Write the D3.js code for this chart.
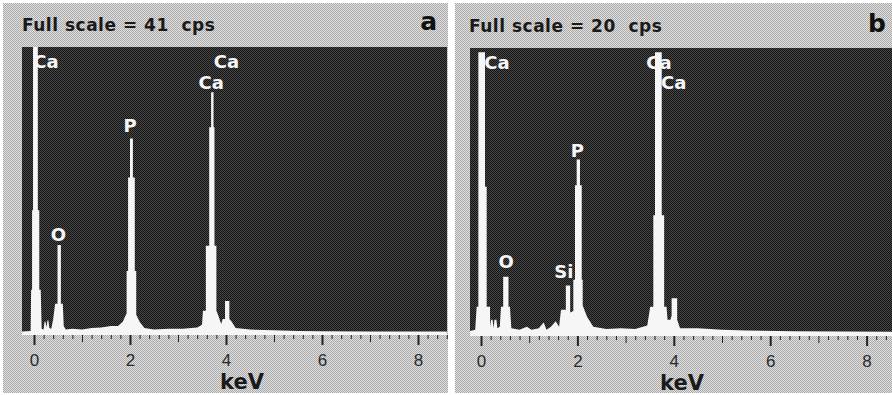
<!DOCTYPE html>
<html>
<head>
<meta charset="utf-8">
<script src="https://cdn.jsdelivr.net/npm/d3@7"></script>
<style>
  body { margin: 0; background: #fff; }
  svg { display: block; }
</style>
</head>
<body>
<div id="chart"></div>
<script>
/**
 * DATA
 * */
const fullScale = [41, 20];          // cps at top of each plot
const panelLetters = ["a", "b"];
const tickLabels = [0, 2, 4, 6, 8];  // keV

// spectrum outlines, [keV, cps]
const spectrumA = [
  [-0.25, 0.2], [-0.07, 0.3], [-0.06, 6.2], [-0.04, 6.2], [-0.04, 17.6], [-0.02, 17.6],
  [-0.02, 41], [0.08, 41], [0.08, 17.6], [0.11, 17.6], [0.11, 6.2], [0.14, 6.2],
  [0.16, 0.6], [0.2, 0.5], [0.22, 1.6], [0.24, 1.6], [0.26, 0.8], [0.28, 1.8], [0.30, 1.8],
  [0.32, 0.7], [0.36, 0.6], [0.40, 2.0], [0.44, 4.2], [0.49, 4.2], [0.49, 12.6],
  [0.56, 12.6], [0.56, 4.2], [0.60, 4.2], [0.62, 1.0], [0.66, 0.5],
  [0.8, 0.6], [1.0, 0.5], [1.2, 0.7], [1.4, 0.8], [1.6, 1.0], [1.75, 1.0], [1.85, 1.6],
  [1.9, 2.4], [1.93, 2.8], [1.93, 8.9], [1.96, 8.9], [1.96, 22.3], [2.0, 22.3],
  [2.0, 27.9], [2.06, 27.9], [2.06, 22.3], [2.1, 22.3], [2.1, 8.9], [2.13, 8.9],
  [2.13, 2.6], [2.2, 1.6], [2.3, 0.7], [2.5, 0.5], [2.8, 0.6], [3.1, 0.6], [3.4, 0.8],
  [3.5, 1.2], [3.52, 3.2], [3.58, 3.2], [3.58, 12.5], [3.65, 12.5], [3.65, 29.5],
  [3.69, 29.5], [3.69, 34.5], [3.74, 34.5], [3.74, 29.5], [3.76, 29.5], [3.76, 12.5],
  [3.80, 12.5], [3.80, 3.2], [3.84, 2.5], [3.9, 1.3], [3.93, 2.0], [3.98, 2.0],
  [3.98, 4.6], [4.07, 4.6], [4.07, 2.0], [4.12, 1.6], [4.2, 0.7], [4.5, 0.5],
  [5.0, 0.4], [5.5, 0.3], [6.0, 0.25], [7.0, 0.2], [8.6, 0.2]
];

const spectrumB = [
  [-0.23, 0.2], [-0.12, 0.3], [-0.09, 1.9], [-0.055, 1.9], [-0.055, 19.7], [0.083, 19.7],
  [0.083, 10.3], [0.118, 10.3], [0.118, 1.9], [0.187, 1.9], [0.19, 0.5], [0.21, 1.0],
  [0.24, 1.0], [0.26, 0.4], [0.28, 1.0], [0.32, 1.0], [0.34, 0.4], [0.39, 0.5],
  [0.415, 1.9], [0.46, 1.9], [0.46, 4.0], [0.57, 4.0], [0.57, 1.9], [0.60, 1.9],
  [0.63, 0.4], [0.8, 0.3], [0.95, 0.5], [1.05, 0.3], [1.2, 0.4], [1.3, 0.8], [1.36, 0.3],
  [1.45, 0.5], [1.55, 0.9], [1.62, 0.5], [1.66, 1.7], [1.76, 1.7], [1.76, 3.4],
  [1.85, 3.4], [1.85, 1.5], [1.915, 1.6], [1.915, 3.8], [1.95, 3.8], [1.95, 10.4],
  [1.985, 10.4], [1.985, 12.2], [2.054, 12.2], [2.054, 10.4], [2.09, 10.4], [2.09, 3.8],
  [2.11, 3.8], [2.11, 2.0], [2.2, 1.2], [2.33, 0.5], [2.6, 0.35], [2.9, 0.4], [3.2, 0.35],
  [3.45, 0.6], [3.51, 1.9], [3.575, 1.9], [3.575, 8.3], [3.61, 8.3], [3.61, 19.7],
  [3.75, 19.7], [3.75, 8.3], [3.80, 8.3], [3.80, 1.9], [3.85, 1.9], [3.87, 1.0],
  [3.93, 1.0], [3.955, 1.3], [3.955, 2.5], [4.07, 2.5], [4.07, 1.0], [4.13, 0.4],
  [4.5, 0.4], [5.0, 0.3], [5.5, 0.25], [6.5, 0.2], [8.6, 0.15]
];

// element labels: name, keV, cps (where the text sits)
const peakLabelsA = [
  ["Ca", 0.25, 38.0], ["O", 0.51, 13.2], ["P", 2.0, 28.8], ["Ca", 3.69, 35.0], ["Ca", 4.01, 38.0]
];
const peakLabelsB = [
  ["Ca", 0.33, 18.5], ["O", 0.52, 4.6], ["Si", 1.72, 3.9], ["P", 2.0, 12.4],
  ["Ca", 3.69, 18.5], ["Ca", 4.0, 17.1]
];

const spectra = [spectrumA, spectrumB];
const peakLabels = [peakLabelsA, peakLabelsB];

/**
 * LAYOUT
 * */
const width = 892, height = 395;
const layout = [
  { outer: [3, 3, 445, 390], plot: [22, 47, 425, 286], xr: [34, 418],
    title: [22, 31], letter: [437, 30], keV: [242, 389], tickY: 366 },
  { outer: [455, 3, 437, 390], plot: [470, 48, 422, 286], xr: [481, 866.6],
    title: [469, 32], letter: [886, 32], keV: [682, 390], tickY: 367 }
];

const svg = d3.select("#chart")
  .append("svg")
  .attr("width", width)
  .attr("height", height);

svg.append("rect").attr("width", width).attr("height", height).attr("fill", "#fff");

// dithered fills, like the scanned print
const defs = svg.append("defs");
function dither(id, base, dot) {
  const p = defs.append("pattern")
    .attr("id", id)
    .attr("patternUnits", "userSpaceOnUse")
    .attr("width", 2).attr("height", 2);
  p.append("rect").attr("width", 2).attr("height", 2).attr("fill", base);
  p.append("rect").attr("x", 0).attr("y", 0).attr("width", 1).attr("height", 1).attr("fill", dot);
  p.append("rect").attr("x", 1).attr("y", 1).attr("width", 1).attr("height", 1).attr("fill", dot);
}
dither("bgDither", "#e0e0e0", "#aaaaaa");
dither("plotDither", "#4a4a4a", "#121212");

layout.forEach((L, i) => {
  const g = svg.append("g");
  const [ox, oy, ow, oh] = L.outer;
  const [px, py, pw, ph] = L.plot;

  g.append("rect")
    .attr("x", ox).attr("y", oy).attr("width", ow).attr("height", oh)
    .attr("fill", "url(#bgDither)");

  const x = d3.scaleLinear().domain([0, 8]).range(L.xr);
  const y = d3.scaleLinear().domain([0, fullScale[i]]).range([py + ph, py]);

  g.append("rect")
    .attr("x", px).attr("y", py).attr("width", pw).attr("height", ph)
    .attr("fill", "url(#plotDither)");

  defs.append("clipPath").attr("id", "clip" + i)
    .append("rect")
    .attr("x", px).attr("y", py).attr("width", pw).attr("height", ph + 1);

  // spectrum
  const area = d3.area()
    .x(d => x(d[0]))
    .y0(y(0))
    .y1(d => y(Math.min(d[1], fullScale[i])));

  g.append("path")
    .datum(spectra[i])
    .attr("d", area)
    .attr("fill", "#f6f6f6")
    .attr("clip-path", `url(#clip${i})`);

  // white baseline
  g.append("line")
    .attr("x1", px).attr("x2", px + pw)
    .attr("y1", py + ph + 1).attr("y2", py + ph + 1)
    .attr("stroke", "#f6f6f6").attr("stroke-width", 2);

  // ticks
  const axisY = py + ph + 2;
  const xmax = x.invert(px + pw);
  const minor = d3.range(0, xmax + 0.001, 0.2).filter(v => Math.abs(v - Math.round(v)) > 0.01);
  const odd = [1, 3, 5, 7].filter(v => v <= xmax);

  const axG = g.append("g").attr("transform", `translate(0,${axisY})`);
  axG.append("g").call(d3.axisBottom(x).tickValues(minor).tickSize(4).tickFormat(""));
  axG.append("g").call(d3.axisBottom(x).tickValues(odd).tickSize(7).tickFormat(""));
  const major = axG.append("g").call(d3.axisBottom(x).tickValues(tickLabels).tickSize(10));
  major.selectAll("line").attr("stroke-width", 2);
  major.selectAll("text")
    .attr("y", L.tickY - axisY)
    .attr("dy", null)
    .attr("fill", "#2a2a2a")
    .style("font-family", "'Liberation Sans', 'DejaVu Sans', sans-serif")
    .style("font-size", "17px");
  axG.selectAll(".domain").remove();
  axG.selectAll("line").attr("stroke", "#222");

  // axis title
  g.append("text")
    .attr("x", L.keV[0]).attr("y", L.keV[1])
    .attr("text-anchor", "middle")
    .attr("fill", "#1a1a1a")
    .style("font-family", "'DejaVu Sans', sans-serif")
    .style("font-weight", "bold")
    .style("font-size", "21px")
    .text("keV");

  // header
  g.append("text")
    .attr("x", L.title[0]).attr("y", L.title[1])
    .attr("fill", "#1a1a1a")
    .style("font-family", "'DejaVu Sans', sans-serif")
    .style("font-weight", "bold")
    .style("font-size", "17px")
    .style("letter-spacing", "0.5px")
    .style("white-space", "pre")
    .text(`Full scale = ${fullScale[i]}  cps`);

  g.append("text")
    .attr("x", L.letter[0]).attr("y", L.letter[1])
    .attr("text-anchor", "end")
    .attr("fill", "#111")
    .style("font-family", "'DejaVu Sans', sans-serif")
    .style("font-weight", "bold")
    .style("font-size", "25px")
    .text(panelLetters[i]);

  // element labels
  g.selectAll("text.peak")
    .data(peakLabels[i])
    .join("text")
    .attr("class", "peak")
    .attr("x", d => x(d[1]))
    .attr("y", d => y(d[2]))
    .attr("text-anchor", "middle")
    .attr("fill", "#f6f6f6")
    .style("font-family", "'DejaVu Sans', sans-serif")
    .style("font-weight", "bold")
    .style("font-size", "18px")
    .text(d => d[0]);
});
</script>
</body>
</html>
